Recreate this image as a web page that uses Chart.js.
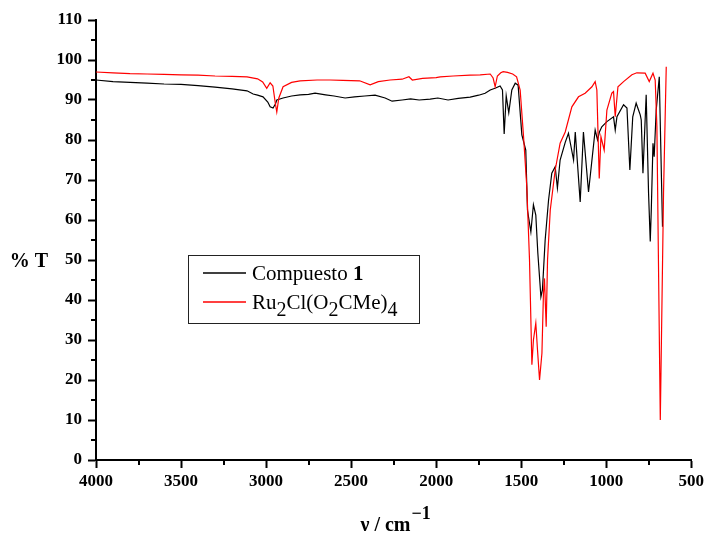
<!DOCTYPE html>
<html>
<head>
<meta charset="utf-8">
<script src="https://cdn.jsdelivr.net/npm/chart.js@4/dist/chart.umd.min.js"></script>
<style>
html,body{margin:0;padding:0;background:#fff;}
#wrap{width:707px;height:538px;}
</style>
</head>
<body>
<div id="wrap"><canvas id="c" width="707" height="538"></canvas></div>
<script>
// Series names
const seriesNames = ["Compuesto 1", "Ru2Cl(O2CMe)4"];

// Compuesto 1 (black): wavenumber (cm-1) and %T
const wnBlack = [4000,3900,3800,3700,3600,3500,3400,3300,3200,3112,3076,3050,3018,2990,2976,2959,2945,2937,2900,2850,2800,2750,2712,2650,2600,2535,2480,2420,2359,2300,2259,2200,2150,2100,2035,1990,1930,1870,1800,1750,1712,1682,1650,1624,1610,1600,1588,1573,1555,1535,1518,1496,1473,1463,1443,1428,1414,1402,1384,1375,1359,1339,1320,1300,1287,1271,1241,1222,1192,1182,1153,1134,1104,1065,1051,1040,1026,996,957,947,937,898,878,861,844,824,810,800,794,784,765,751,741,735,725,718,706,688,669];
const tBlack = [95.0,94.6,94.4,94.2,94.0,93.9,93.6,93.2,92.8,92.3,91.5,91.2,90.8,89.5,88.3,88.0,89.0,90.0,90.5,91.0,91.3,91.4,91.7,91.3,91.0,90.5,90.8,91.0,91.2,90.5,89.7,90.0,90.3,90.0,90.2,90.5,90.0,90.4,90.7,91.2,91.7,92.5,93.0,93.5,92.5,81.5,91.0,86.8,92.5,94.2,93.7,81.3,77.5,62.5,57.0,63.8,61.2,51.7,40.8,42.5,55.0,65.0,71.7,73.3,68.0,75.0,79.4,81.7,75.0,82.0,64.5,82.0,67.0,82.5,80.0,82.0,83.3,84.6,85.8,82.5,85.8,88.8,88.0,72.5,85.8,89.2,87.5,86.3,85.0,71.7,91.3,66.7,54.6,62.5,79.2,75.8,87.5,95.8,58.3];

// Ru2Cl(O2CMe)4 (red): wavenumber (cm-1) and %T
const wnRed = [4000,3900,3800,3700,3600,3500,3400,3300,3200,3112,3050,3020,2996,2976,2960,2945,2937,2925,2900,2850,2800,2700,2624,2550,2450,2388,2340,2271,2200,2160,2140,2080,2000,1976,1900,1800,1741,1682,1665,1653,1640,1620,1606,1580,1550,1527,1506,1486,1467,1451,1437,1428,1414,1404,1392,1378,1369,1363,1353,1345,1329,1300,1271,1241,1202,1163,1124,1084,1065,1055,1041,1031,1012,996,967,957,947,931,898,849,820,771,747,725,712,702,682,663,647];
const tRed = [97.0,96.8,96.6,96.5,96.4,96.3,96.2,96.0,95.9,95.8,95.3,94.5,92.9,94.3,93.5,89.0,87.0,90.5,93.3,94.4,94.8,95.0,95.0,94.9,94.8,93.8,94.6,95.0,95.2,95.8,95.0,95.4,95.6,95.8,96.0,96.2,96.3,96.5,95.5,93.3,96.0,96.8,97.1,96.9,96.5,95.8,92.5,80.8,68.3,50.0,23.8,30.0,34.2,27.5,20.0,26.7,41.7,45.4,33.3,50.0,62.5,72.5,79.2,82.0,88.3,90.8,91.7,93.3,94.6,92.5,70.4,80.8,77.5,87.5,91.7,92.1,85.8,93.3,94.6,96.3,96.8,96.7,94.6,96.7,95.0,83.3,10.0,66.7,98.3];

// Axis ranges / ticks
const xMin = 500, xMax = 4000, xStep = 500, xMinorStep = 250;
const yMin = 0, yMax = 110, yStep = 10, yMinorStep = 5;

const toXY = (wn, t) => wn.map((w, i) => ({x: w, y: t[i]}));

const FONT = '"Liberation Serif", "Times New Roman", serif';

const decorPlugin = {
  id: 'decor',
  afterDraw(chart) {
    const ctx = chart.ctx;
    const xs = chart.scales.x, ys = chart.scales.y;
    ctx.save();
    ctx.strokeStyle = '#000';
    ctx.lineWidth = 2;
    // minor ticks x
    for (let v = xMin; v <= xMax; v += xMinorStep) {
      if (v % xStep === 0) continue;
      const px = Math.round(xs.getPixelForValue(v));
      ctx.beginPath(); ctx.moveTo(px, ys.bottom); ctx.lineTo(px, ys.bottom + 5); ctx.stroke();
    }
    // minor ticks y
    for (let v = yMin; v <= yMax; v += yMinorStep) {
      if (v % yStep === 0) continue;
      const py = Math.round(ys.getPixelForValue(v));
      ctx.beginPath(); ctx.moveTo(xs.left - 5, py); ctx.lineTo(xs.left, py); ctx.stroke();
    }
    // y title
    ctx.fillStyle = '#000';
    ctx.font = 'bold 20px ' + FONT;
    ctx.textAlign = 'center';
    ctx.textBaseline = 'alphabetic';
    ctx.fillText('% T', 29, 267);
    // x title with superscript
    ctx.textAlign = 'left';
    const main = 'ν / cm';
    ctx.font = 'bold 20px ' + FONT;
    const mw = ctx.measureText(main).width;
    ctx.font = 'bold 18px ' + FONT;
    const sw = ctx.measureText('−1').width;
    const cx = (xs.left + xs.right) / 2;
    let sx = cx - (mw + sw + 1) / 2 + 2;
    ctx.font = 'bold 20px ' + FONT;
    ctx.fillText(main, sx, 531);
    ctx.font = 'bold 18px ' + FONT;
    ctx.fillText('−1', sx + mw + 1, 519);

    // legend
    const lx = 188, ly = 255, lw = 231, lh = 68;
    ctx.lineWidth = 1;
    ctx.strokeStyle = '#222';
    ctx.strokeRect(lx + 0.5, ly + 0.5, lw, lh);
    ctx.lineWidth = 1.3;
    ctx.strokeStyle = '#000';
    ctx.beginPath(); ctx.moveTo(203, 273); ctx.lineTo(246, 273); ctx.stroke();
    ctx.strokeStyle = '#ff0000';
    ctx.beginPath(); ctx.moveTo(203, 302); ctx.lineTo(246, 302); ctx.stroke();

    ctx.fillStyle = '#000';
    let tx = 252;
    ctx.font = '21px ' + FONT;
    ctx.fillText('Compuesto ', tx, 280);
    tx += ctx.measureText('Compuesto ').width;
    ctx.font = 'bold 21px ' + FONT;
    ctx.fillText('1', tx, 280);

    // Ru2Cl(O2CMe)4
    const parts = [['Ru', 0], ['2', 1], ['Cl(O', 0], ['2', 1], ['CMe)', 0], ['4', 1]];
    tx = 252;
    for (const [s, sub] of parts) {
      ctx.font = (sub ? '20px ' : '21px ') + FONT;
      ctx.fillText(s, tx, sub ? 316 : 309);
      tx += ctx.measureText(s).width;
    }
    ctx.restore();
  }
};

new Chart(document.getElementById('c'), {
  type: 'line',
  data: {
    datasets: [
      {
        label: seriesNames[0],
        data: toXY(wnBlack, tBlack),
        borderColor: '#000000',
        borderWidth: 1.2,
        pointRadius: 0,
        tension: 0,
        fill: false,
        order: 1
      },
      {
        label: seriesNames[1],
        data: toXY(wnRed, tRed),
        borderColor: '#ff0000',
        borderWidth: 1.2,
        pointRadius: 0,
        tension: 0,
        fill: false,
        order: 0
      }
    ]
  },
  options: {
    responsive: false,
    animation: false,
    devicePixelRatio: 1,
    layout: { padding: { top: 20, right: 14, left: 0, bottom: 0 } },
    plugins: { legend: { display: false }, tooltip: { enabled: false } },
    scales: {
      x: {
        type: 'linear',
        reverse: true,
        min: xMin, max: xMax,
        ticks: { stepSize: xStep, color: '#000', font: { family: FONT, size: 17, weight: 'bold' }, padding: 3, maxRotation: 0, callback: (v) => String(v) },
        grid: { drawOnChartArea: false, drawTicks: true, tickLength: 8, tickWidth: 2, tickColor: '#000' },
        border: { display: true, color: '#000', width: 2 },
        afterFit(s) { s.height = 78; }
      },
      y: {
        type: 'linear',
        min: yMin, max: yMax,
        ticks: { stepSize: yStep, color: '#000', font: { family: FONT, size: 17, weight: 'bold' }, padding: 6, callback: (v) => String(v) },
        grid: { drawOnChartArea: false, drawTicks: true, tickLength: 8, tickWidth: 2, tickColor: '#000' },
        border: { display: true, color: '#000', width: 2 },
        afterFit(s) { s.width = 96; }
      }
    }
  },
  plugins: [decorPlugin]
});
</script>
</body>
</html>
